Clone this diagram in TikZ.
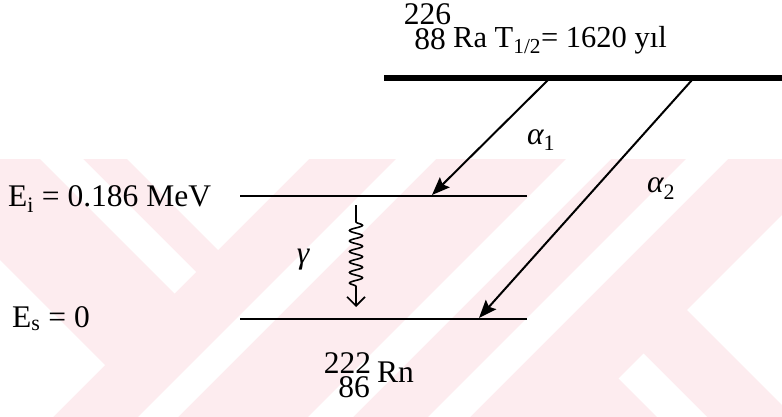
\documentclass[tikz,border=0pt]{standalone}
\usepackage{fontspec}
\setmainfont{Liberation Serif}
\usetikzlibrary{arrows.meta,decorations.pathmorphing}
\definecolor{wm}{RGB}{253,236,239}
\begin{document}
\begin{tikzpicture}[x=1pt,y=-1pt,
  font=\fontsize{31.5}{31.5}\selectfont,
  lbl/.style={inner sep=0pt},
  toplevel/.style={line width=6pt},
  level/.style={line width=2.4pt},
  alphaarrow/.style={line width=2pt,-{Stealth[length=18pt,width=14pt,inset=3pt]}},
  gammaarrow/.style={line width=1.6pt,decorate,
    decoration={snake,amplitude=6.5pt,segment length=10.5pt,pre length=17pt,post length=16pt},
    -{Straight Barb[length=9pt,width=18pt,line width=1.6pt]}}]
\useasboundingbox (0,0) rectangle (782,417);
% watermark
\begin{scope}
  \clip (0,159) rectangle (782,417);
  \fill[wm] (0,159) rectangle (782,417);
  \fill[white] (127,159) -- (218,250) -- (309,159) -- cycle;
  \fill[white] (40,159) -- (83,159) -- (196,272) -- (174.5,293.5) -- cycle;
  \fill[white] (0,260) -- (105,365) -- (53,417) -- (0,417) -- cycle;
  \fill[white] (396,159) -- (436,159) -- (178,417) -- (138,417) -- cycle;
  \fill[white] (566,159) -- (611,159) -- (353,417) -- (308,417) -- cycle;
  \fill[white] (686,159) -- (728,159) -- (470,417) -- (428,417) -- cycle;
  \fill[white] (687,310) -- (800,197) -- (800,423) -- cycle;
  \fill[white] (618.5,378.5) -- (643.5,353.5) -- (707,417) -- (657,417) -- cycle;
\end{scope}
% coordinates
\coordinate (topL) at (384,78);
\coordinate (topR) at (782,78);
\coordinate (iL) at (240,196);
\coordinate (iR) at (527,196);
\coordinate (sL) at (240,319);
\coordinate (sR) at (527,319);
\coordinate (a1s) at (548,80);
\coordinate (a1e) at (432,195);
\coordinate (a2s) at (692,80);
\coordinate (a2e) at (479,318);
\coordinate (g1) at (356,205);
\coordinate (g2) at (356,307);
% levels
\draw[toplevel] (topL) -- (topR);
\draw[level] (iL) -- (iR);
\draw[level] (sL) -- (sR);
% transitions
\draw[alphaarrow] (a1s) -- (a1e);
\draw[alphaarrow] (a2s) -- (a2e);
\draw[gammaarrow] (g1) -- (g2);
% labels
\node[lbl,anchor=base] (n226) at (427.5,25) {226};
\node[lbl,anchor=base] (n88) at (430,50) {88};
\node[lbl,anchor=base west,font=\fontsize{30.5}{30.5}\selectfont] (ra) at (453,48) {Ra T\textsubscript{1/2}= 1620 yıl};
\node[lbl,anchor=base west] (ei) at (8,206) {E\textsubscript{i} = 0.186 MeV};
\node[lbl,anchor=base west] (es) at (12,327) {E\textsubscript{s} = 0};
\node[lbl] (gam) at (303,260) {\itshape γ};
\node[lbl,anchor=base west] (al1) at (527,145) {\itshape α\textsubscript{\upshape 1}};
\node[lbl,anchor=base west] (al2) at (647,193) {\itshape α\textsubscript{\upshape 2}};
\node[lbl,anchor=base] (n222) at (347.5,373) {222};
\node[lbl,anchor=base] (n86) at (354,397) {86};
\node[lbl,anchor=base west] (rn) at (377,382) {Rn};
\end{tikzpicture}
\end{document}
